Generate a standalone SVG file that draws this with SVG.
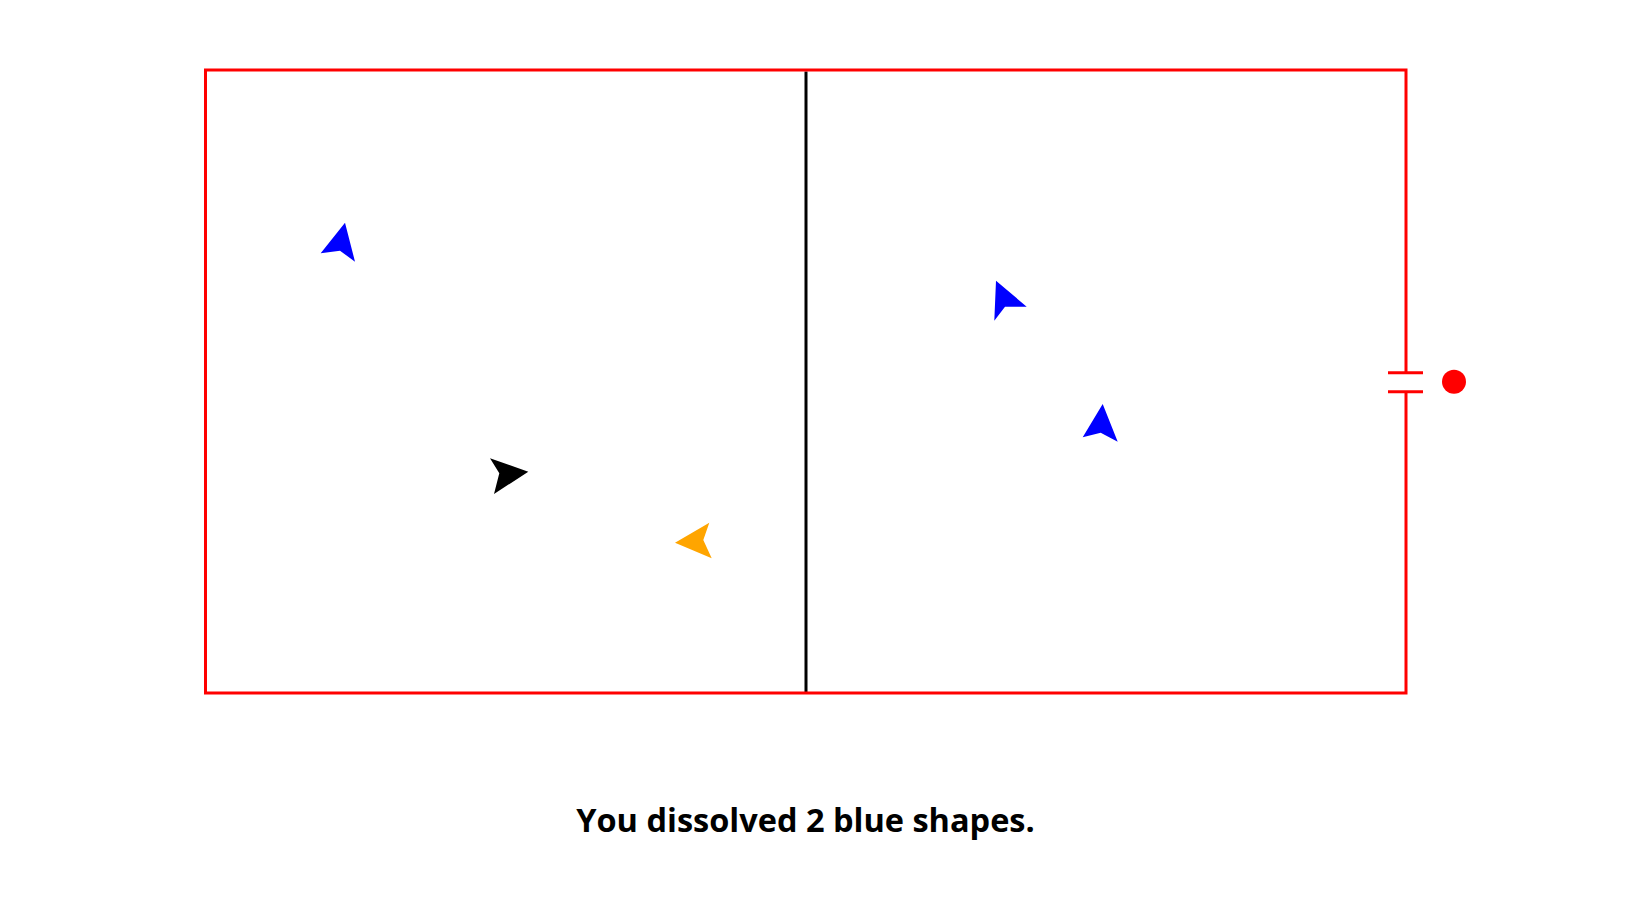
<svg xmlns="http://www.w3.org/2000/svg" width="1642" height="924" viewBox="0 0 1642 924">
<style>
.wall{fill:none;stroke:#ff0000;stroke-width:3}
.div{stroke:#000;stroke-width:3}
.blue{fill:#0000ff}
.cap{stroke:#ff0000;stroke-width:3}
.msg{font-family:"Open Sans","Noto Sans",sans-serif;font-weight:bold;font-size:32.5px;fill:#000}
</style>
<rect width="1642" height="924" fill="#fff"/>
<g id="connectors">
<line class="div" x1="806" y1="71.5" x2="806" y2="692"/>
</g>
<g id="box">
<path class="wall" d="M1406,372.7 V70 H205.5 V693 H1406 V391.7"/>
</g>
<g id="capacitor">
<line class="cap" x1="1388" y1="372.7" x2="1423" y2="372.7"/>
<line class="cap" x1="1388" y1="391.7" x2="1423" y2="391.7"/>
<circle cx="1454" cy="381.7" r="12" fill="#ff0000"/>
</g>
<g id="blue1"><polygon class="blue" points="345,222.7 355,261.7 340,250.7 320.7,253.3"/></g>
<g id="black1"><polygon fill="#000" points="528.3,471.7 494,494 499.3,473.3 490,458.3"/></g>
<g id="orange1"><polygon fill="#ffa500" points="675,542.7 709.3,522.7 703.3,540 711.7,558.3"/></g>
<g id="blue2"><polygon class="blue" points="1026.7,306.7 996,280.7 994.3,320.7 1005,306.7"/></g>
<g id="blue3"><polygon class="blue" points="1102.7,404 1117.7,441.7 1100.7,432.7 1082.7,437.3"/></g>
<g id="label"><text class="msg" x="805.5" y="832" text-anchor="middle">You dissolved 2 blue shapes.</text></g>
</svg>
